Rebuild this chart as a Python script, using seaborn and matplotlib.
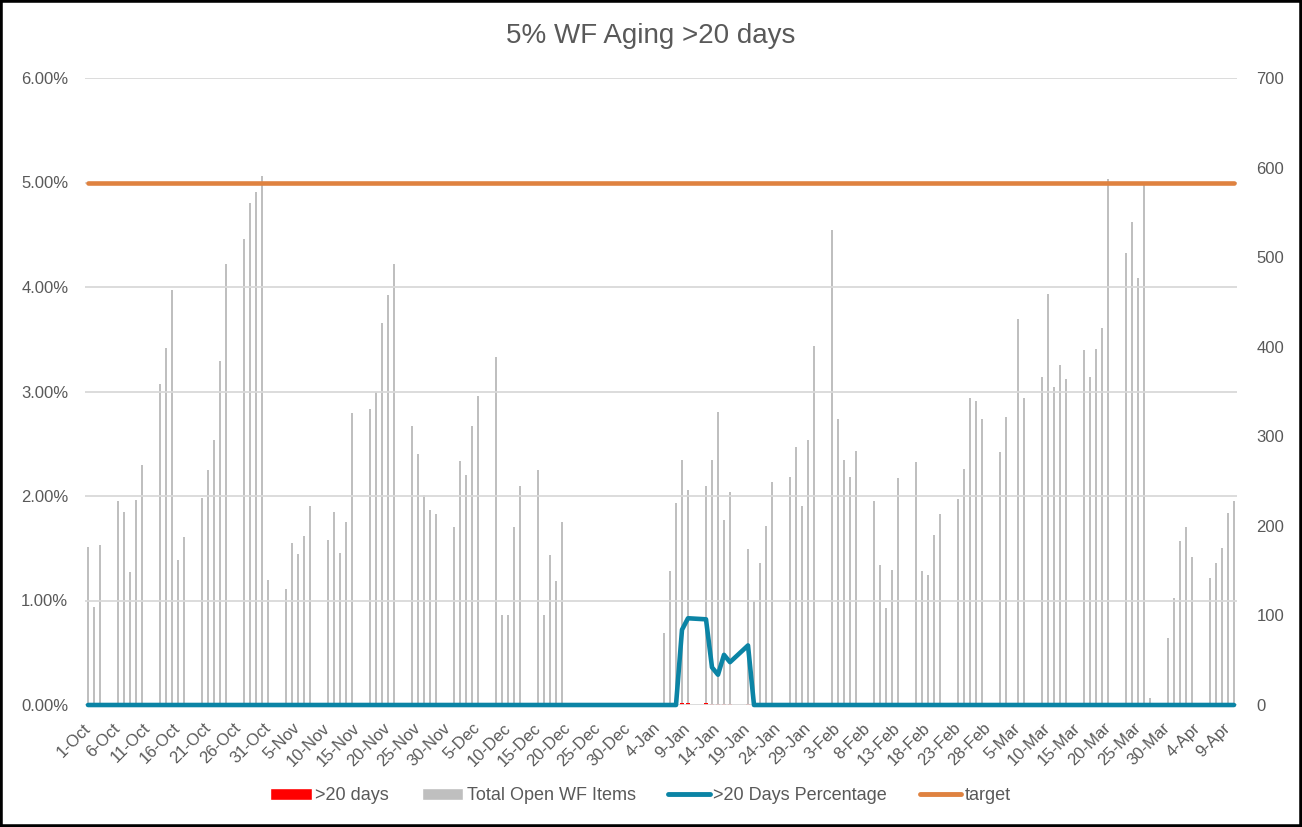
'''5% WF aging >20 days - daily open items with >20 day percentage'''
import numpy as np
import pandas as pd
import seaborn as sns
import matplotlib.pyplot as plt
from matplotlib.patches import Patch, Rectangle
from matplotlib.lines import Line2D

#region data
# business days only, 1-Oct to 10-Apr
start_date = '2025-10-01'
end_date = '2026-04-10'

total_oct = [176, 109, 179, 228, 216, 149, 229, 268, 358, 399, 463, 162, 188,
             231, 262, 296, 384, 492, 520, 560, 573, 591, 140]
total_nov = [129, 181, 169, 189, 222, 184, 215, 170, 204, 326, 331, 349, 426, 458, 492,
             312, 280, 235, 218, 213]
total_dec = [199, 272, 257, 312, 345, 389, 100, 100, 199, 244, 262, 101, 168, 138, 204,
             0, 0, 0, 0, 0, 0, 0, 0]
total_jan = [0, 0, 80, 150, 225, 274, 240, 244, 274, 327, 207, 238, 174, 116, 158, 200, 249,
             254, 288, 222, 296, 401]
total_feb = [530, 319, 274, 255, 284, 228, 156, 108, 151, 253, 271, 150, 145, 190, 213,
             230, 263, 343, 339, 319]
total_mar = [283, 321, 0, 431, 343, 366, 459, 355, 380, 364, 396, 366, 398, 421, 587,
             505, 539, 477, 580, 8, 75, 119]
total_apr = [183, 199, 165, 142, 158, 175, 214, 228]

over20_jan = [0, 0, 0, 0, 0, 2, 2, 2, 1, 1, 1, 1, 1, 0, 0, 0, 0, 0, 0, 0, 0, 0]
pct_jan = [0, 0, 0, 0, 0, 0.72, 0.83, 0.82, 0.36, 0.29, 0.48, 0.41, 0.57, 0, 0, 0, 0,
           0, 0, 0, 0, 0]
target_pct = 5.0
#endregion

BAR_GREY = '#BFBFBF'
RED = '#FF0000'
BLUE = '#0B84A5'
ORANGE = '#DF8240'
TEXT = '#595959'
GRID = '#D9D9D9'

sns.set_theme(style='white')
plt.rcParams['font.family'] = ['Liberation Sans', 'DejaVu Sans']

dates = pd.bdate_range(start_date, end_date)
day_idx = np.asarray((dates - dates[0]).days)

total_items = total_oct + total_nov + total_dec + total_jan + total_feb + total_mar + total_apr
before_jan = len(total_oct) + len(total_nov) + len(total_dec)
after_jan = len(total_feb) + len(total_mar) + len(total_apr)
over_20 = [0] * before_jan + over20_jan + [0] * after_jan
pct_over_20 = [0.0] * before_jan + pct_jan + [0.0] * after_jan
target = [target_pct] * len(dates)

all_days = pd.date_range(start_date, end_date)
tick_days = np.arange(0, len(all_days), 5)
tick_labels = ['%d-%s' % (d.day, d.strftime('%b')) for d in all_days[::5]]

fig = plt.figure(figsize=(13.02, 8.27), dpi=100)
ax = fig.add_axes([85 / 1302, 1 - 705 / 827, (1237 - 85) / 1302, (705 - 78) / 827])
ax2 = ax.twinx()

# counts on the secondary axis
sns.barplot(x=day_idx, y=total_items, native_scale=True, width=0.38, color=BAR_GREY,
            saturation=1, errorbar=None, linewidth=0, antialiased=False, ax=ax2)
sns.barplot(x=day_idx, y=over_20, native_scale=True, width=0.55, color=RED,
            saturation=1, errorbar=None, linewidth=0, antialiased=False, ax=ax2)

# percentages on the primary axis
sns.lineplot(x=day_idx, y=pct_over_20, color=BLUE, linewidth=3.3, clip_on=False, zorder=4, ax=ax)
sns.lineplot(x=day_idx, y=target, color=ORANGE, linewidth=3.3, clip_on=False, zorder=4, ax=ax)

ax.set_zorder(ax2.get_zorder() + 1)
ax.patch.set_visible(False)

ax.set_ylim(0, 6)
ax2.set_ylim(0, 700)
ax.set_xlim(-0.5, len(all_days) - 0.5)

ax.set_yticks(np.arange(0, 7))
ax.set_yticklabels(['%.2f%%' % v for v in np.arange(0, 7)])
ax2.set_yticks(np.arange(0, 800, 100))
ax2.set_yticklabels([str(v) for v in np.arange(0, 800, 100)])

ax.set_xticks(tick_days)
ax.set_xticklabels(tick_labels, rotation=45, ha='right', va='center', rotation_mode='anchor')

ax.yaxis.grid(True, color=GRID, linewidth=1.3)
ax.xaxis.grid(False)
ax2.grid(False)
ax.set_axisbelow(True)

for a in (ax, ax2):
    for s in ('top', 'left', 'right', 'bottom'):
        a.spines[s].set_visible(False)
    a.set_xlabel('')
    a.set_ylabel('')

ax.tick_params(axis='y', length=0, pad=12, labelsize=12, labelcolor=TEXT)
ax2.tick_params(axis='y', length=0, pad=14, labelsize=12, labelcolor=TEXT)
ax.tick_params(axis='x', length=5, width=1, color=GRID, pad=10, labelsize=12, labelcolor=TEXT)

fig.text(0.5, 1 - 36 / 827, '5% WF Aging >20 days', ha='center', va='center',
         fontsize=20, color=TEXT)

handles = [Patch(facecolor=RED), Patch(facecolor=BAR_GREY),
           Line2D([], [], color=BLUE, linewidth=3.5), Line2D([], [], color=ORANGE, linewidth=3.5)]
labels = ['>20 days', 'Total Open WF Items', '>20 Days Percentage', 'target']
fig.legend(handles, labels, loc='center', bbox_to_anchor=(0.492, 1 - 796 / 827), ncol=4,
           frameon=False, fontsize=13, handlelength=2.3, handleheight=0.6, handletextpad=0.2,
           columnspacing=1.8, labelcolor=TEXT)

fig.add_artist(Rectangle((0, 0), 1, 1, transform=fig.transFigure, fill=False,
                         edgecolor='black', linewidth=4))

fig.savefig('out.png', dpi=100)
